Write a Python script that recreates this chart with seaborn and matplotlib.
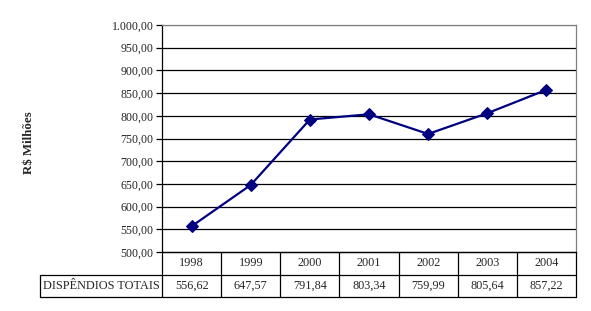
import matplotlib
matplotlib.use("Agg")
import matplotlib.pyplot as plt
import seaborn as sns
import pandas as pd
import numpy as np

years = ["1998", "1999", "2000", "2001", "2002", "2003", "2004"]
values = [556.62, 647.57, 791.84, 803.34, 759.99, 805.64, 857.22]
row_label = "DISPÊNDIOS TOTAIS"
y_label = "R$ Milhões"
y_ticks = [500, 550, 600, 650, 700, 750, 800, 850, 900, 950, 1000]

def br(v):
    s = f"{v:,.2f}"
    return s.replace(",", "X").replace(".", ",").replace("X", ".")

sns.set_theme(style="white")
plt.rcParams["font.family"] = ["Liberation Serif", "DejaVu Serif"]

W, H = 591, 311
fig = plt.figure(figsize=(W / 100, H / 100), dpi=100)
fig.patch.set_facecolor("white")

L, R, T, B = 162, 576, 25, 252
ax = fig.add_axes([L / W, 1 - B / H, (R - L) / W, (B - T) / H])
df = pd.DataFrame({"x": np.arange(len(years)), "y": values})
sns.lineplot(data=df, x="x", y="y", ax=ax, color="#000080", linewidth=1.6,
             marker="D", markersize=6.5, markeredgecolor="#000080", zorder=5)
ax.set_xlim(-0.5, len(years) - 0.5)
ax.set_ylim(500, 1000)
ax.set_yticks(y_ticks)
ax.set_yticklabels([br(v) for v in y_ticks], fontsize=8.6)
ax.set_xticks([])
ax.set_xlabel("")
ax.set_ylabel("")
for v in y_ticks[1:-1]:
    ax.axhline(v, color="black", linewidth=0.9, zorder=1)
ax.axhline(1000, color="#808080", linewidth=0.9, zorder=1)
for sp in ["top", "right"]:
    ax.spines[sp].set_color("#808080")
    ax.spines[sp].set_linewidth(0.9)
for sp in ["left", "bottom"]:
    ax.spines[sp].set_color("black")
    ax.spines[sp].set_linewidth(0.9)
ax.tick_params(axis="y", direction="out", length=4, width=0.9, color="black",
               pad=2, left=True)
ax.set_facecolor("white")

fig.text(29 / W, 1 - 143 / H, y_label, rotation=90, ha="center", va="center",
         fontsize=9.3, fontweight="bold")

# data table
TL, TB = 40, 297
tax = fig.add_axes([TL / W, 1 - TB / H, (R - TL) / W, (TB - B) / H])
n = len(years)
colw = (R - L) / n
lw = (L - TL) / colw
tax.set_xlim(-lw - 0.5, n - 0.5)
tax.set_ylim(2, 0)
tax.axis("off")
kw = dict(color="black", linewidth=0.9, clip_on=False)
tax.plot([-0.5, n - 0.5], [0, 0], **kw)
tax.plot([-lw - 0.5, n - 0.5], [1, 1], **kw)
tax.plot([-lw - 0.5, n - 0.5], [2, 2], **kw)
for i in range(n + 1):
    tax.plot([i - 0.5, i - 0.5], [0, 2], **kw)
tax.plot([-lw - 0.5, -lw - 0.5], [1, 2], **kw)
for i, (yr, v) in enumerate(zip(years, values)):
    tax.text(i, 0.5, yr, ha="center", va="center", fontsize=8.8)
    tax.text(i, 1.5, br(v), ha="center", va="center", fontsize=8.8)
tax.text(-lw / 2 - 0.5, 1.5, row_label, ha="center", va="center", fontsize=8.8)

fig.savefig("out.png", dpi=100, facecolor="white")
